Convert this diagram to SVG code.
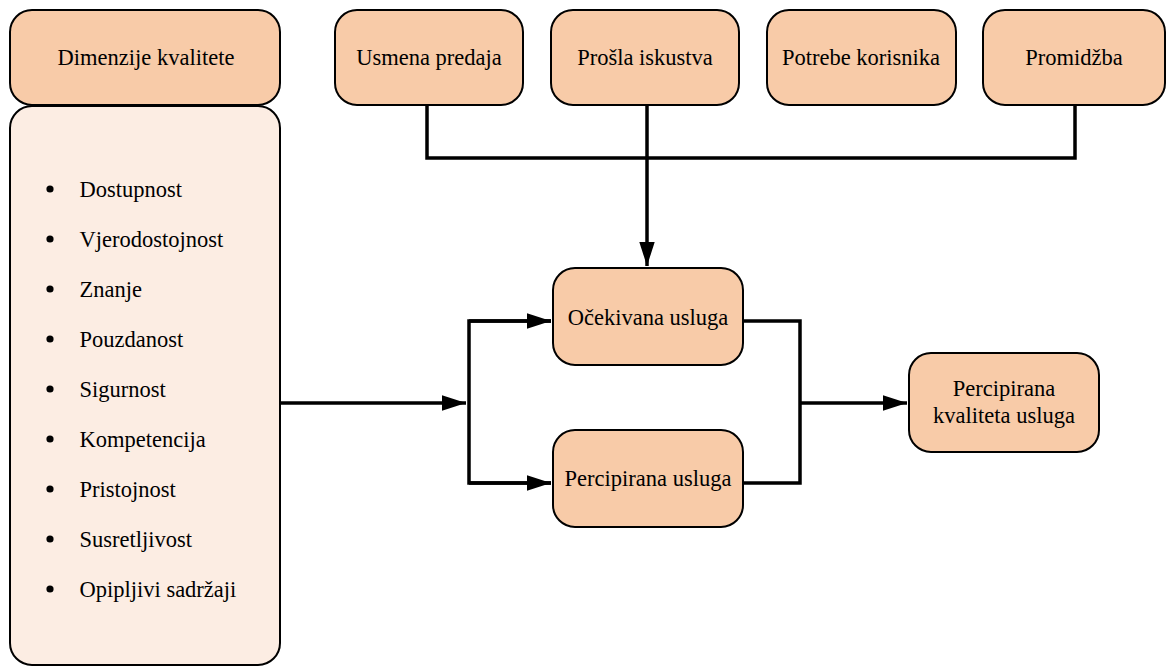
<svg xmlns="http://www.w3.org/2000/svg" width="1167" height="668" viewBox="0 0 1167 668">
<style>
.box{fill:#F8CBA8;stroke:#000;stroke-width:2}
.lbox{fill:#FCEDE3;stroke:#000;stroke-width:2}
.c{text-anchor:middle}
.conn{fill:none;stroke:#000;stroke-width:3.5}
</style>
<defs>
<marker id="ah" viewBox="0 0 10 10" refX="10" refY="5" markerWidth="7" markerHeight="4.5" markerUnits="strokeWidth" orient="auto" preserveAspectRatio="none">
<path d="M0,0 L10,5 L0,10 Z" fill="#000"/>
</marker>
</defs>
<g id="connectors">
<path class="conn" d="M427,105 V158 H1075 V105"/>
<path class="conn" d="M647,105 V266" marker-end="url(#ah)"/>
<path class="conn" d="M280,403 H466" marker-end="url(#ah)"/>
<path class="conn" d="M551,321 H469 V483 H551" />
<path class="conn" d="M469,321 H551" marker-end="url(#ah)"/>
<path class="conn" d="M469,483 H551" marker-end="url(#ah)"/>
<path class="conn" d="M743,321 H800 V483 H743"/>
<path class="conn" d="M800,403 H907" marker-end="url(#ah)"/>
</g>
<g font-family="Liberation Serif, Times New Roman, Times, serif" font-size="22.5" fill="#000">
<g id="dimenzije">
<rect class="box" x="10" y="10" width="270" height="95" rx="22"/>
<text class="c" x="146" y="65">Dimenzije kvalitete</text>
</g>
<g id="lista">
<rect class="lbox" x="10" y="106" width="270" height="559" rx="22"/>
<g fill="#000">
<circle cx="50" cy="189" r="3.6"/><circle cx="50" cy="239" r="3.6"/><circle cx="50" cy="289" r="3.6"/>
<circle cx="50" cy="339" r="3.6"/><circle cx="50" cy="389" r="3.6"/><circle cx="50" cy="439" r="3.6"/>
<circle cx="50" cy="489" r="3.6"/><circle cx="50" cy="539" r="3.6"/><circle cx="50" cy="589" r="3.6"/>
</g>
<text x="79.5" y="197">Dostupnost</text>
<text x="79.5" y="247">Vjerodostojnost</text>
<text x="79.5" y="297">Znanje</text>
<text x="79.5" y="347">Pouzdanost</text>
<text x="79.5" y="397">Sigurnost</text>
<text x="79.5" y="447">Kompetencija</text>
<text x="79.5" y="497">Pristojnost</text>
<text x="79.5" y="547">Susretljivost</text>
<text x="79.5" y="597">Opipljivi sadržaji</text>
</g>
<g id="usmena">
<rect class="box" x="335" y="10" width="188" height="95" rx="22"/>
<text class="c" x="429" y="65">Usmena predaja</text>
</g>
<g id="prosla">
<rect class="box" x="551" y="10" width="188" height="95" rx="22"/>
<text class="c" x="645" y="65">Prošla iskustva</text>
</g>
<g id="potrebe">
<rect class="box" x="767" y="10" width="189" height="95" rx="22"/>
<text class="c" x="861" y="65">Potrebe korisnika</text>
</g>
<g id="promidzba">
<rect class="box" x="983" y="10" width="182" height="95" rx="22"/>
<text class="c" x="1074" y="65">Promidžba</text>
</g>
<g id="ocekivana">
<rect class="box" x="553" y="268" width="190" height="97" rx="22"/>
<text class="c" x="648" y="325">Očekivana usluga</text>
</g>
<g id="percipirana">
<rect class="box" x="553" y="430" width="190" height="97" rx="22"/>
<text class="c" x="648" y="486">Percipirana usluga</text>
</g>
<g id="kvaliteta">
<rect class="box" x="909" y="353" width="190" height="99" rx="22"/>
<text class="c" x="1004" y="396">Percipirana</text>
<text class="c" x="1004" y="423">kvaliteta usluga</text>
</g>
</g>
</svg>
